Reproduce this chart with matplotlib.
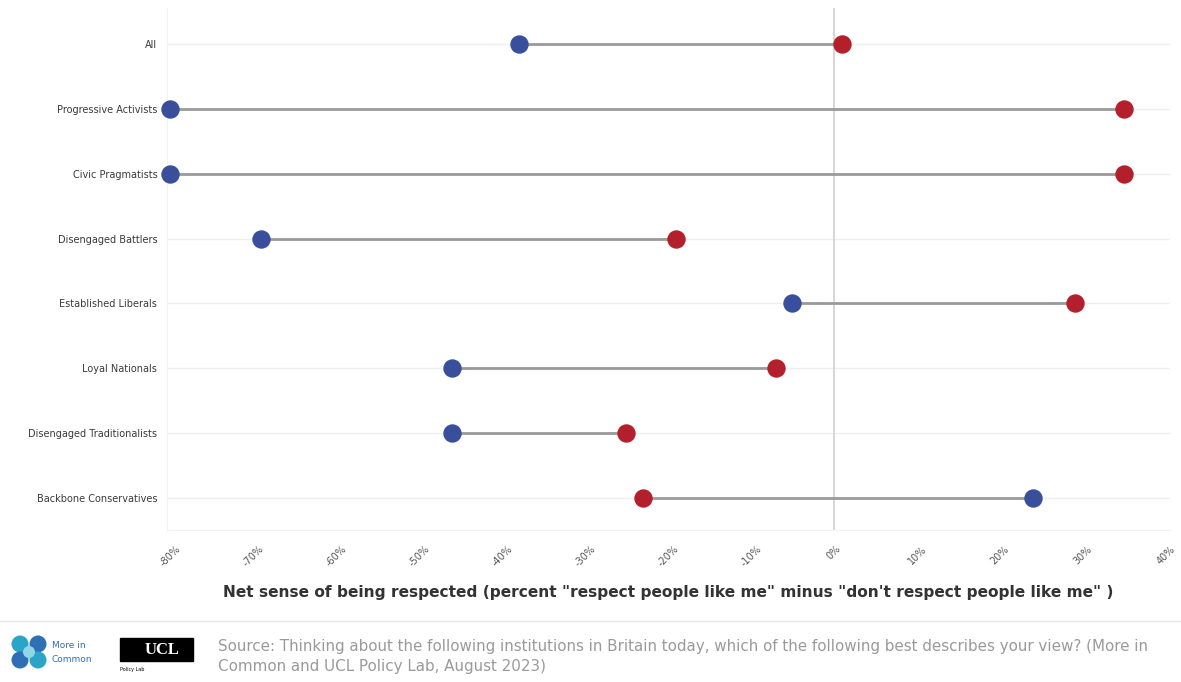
import matplotlib.pyplot as plt
from matplotlib.patches import Circle, Rectangle

# Segments (top to bottom)
categories = [
    "All",
    "Progressive Activists",
    "Civic Pragmatists",
    "Disengaged Battlers",
    "Established Liberals",
    "Loyal Nationals",
    "Disengaged Traditionalists",
    "Backbone Conservatives",
]
# Net sense of being respected, in percent
blue_values = [-38, -80, -80, -69, -5, -46, -46, 24]
red_values = [1, 35, 35, -19, 29, -7, -25, -23]
tick_values = list(range(-80, 41, 10))
tick_labels = [f"{v}%" for v in tick_values]

BLUE = "#3a4f9c"
RED = "#b3202b"
W, H = 1181, 682


def fx(px):
    return px / W


def fy(py):
    return 1 - py / H


fig = plt.figure(figsize=(11.81, 6.82), dpi=100)
ax = fig.add_axes([0.1414, 0.223, 0.8493, 0.765])

rows = list(range(len(categories)))
for i in rows:
    ax.plot([blue_values[i], red_values[i]], [i, i], color="#9a9a9a", lw=2, zorder=2,
            solid_capstyle="butt")
ax.scatter(blue_values, rows, s=150, color=BLUE, zorder=3, clip_on=False)
ax.scatter(red_values, rows, s=150, color=RED, zorder=3, clip_on=False)

ax.axvline(0, color="#d0d0d0", lw=1.2, zorder=1)
for i in rows:
    ax.axhline(i, color="#efefef", lw=1, zorder=0)

ax.set_xlim(-80.36, 40.5)
ax.set_ylim(len(categories) - 0.5, -0.56)
ax.set_yticks(rows)
ax.set_yticklabels(categories, fontsize=7, color="#3a3a3a")
ax.set_xticks(tick_values)
ax.set_xticklabels(tick_labels, fontsize=7, color="#555555", rotation=45,
                   ha="center", va="top")
ax.tick_params(axis="both", length=0)
ax.tick_params(axis="x", pad=10)
ax.tick_params(axis="y", pad=7)
for side in ["top", "right"]:
    ax.spines[side].set_visible(False)
ax.spines["left"].set_color("#f2f2f2")
ax.spines["bottom"].set_color("#f2f2f2")

ax.set_xlabel('Net sense of being respected (percent "respect people like me" minus "don\'t respect people like me" )',
              fontsize=11.1, fontweight="bold", color="#333333", labelpad=12)

# footer separator
fig.add_artist(plt.Line2D([0, 1], [fy(621), fy(621)], color="#e6e6e6", lw=1))

# More in Common logo (rough), drawn in a pixel-square inset
lax = fig.add_axes([fx(10), fy(670), fx(48) - fx(10), fy(634) - fy(670)])
lax.set_xlim(0, 38)
lax.set_ylim(0, 36)
lax.set_aspect("equal")
lax.axis("off")
for (cx, cy, c) in [(10, 26, "#2aa5c8"), (28, 26, "#2f6fb3"),
                    (10, 10, "#2f6fb3"), (28, 10, "#2aa5c8")]:
    lax.add_patch(Circle((cx, cy), 8.5, color=c, ec="none"))
lax.add_patch(Circle((19, 18), 6, color="#8fd6e6", ec="none"))
fig.text(fx(52), fy(646), "More in", fontsize=6.5, color="#2f6fb3", va="center")
fig.text(fx(52), fy(659), "Common", fontsize=6.5, color="#2f6fb3", va="center")

# UCL logo (rough)
fig.add_artist(Rectangle((fx(120), fy(661)), fx(193) - fx(120), fy(638) - fy(661),
                         transform=fig.transFigure, color="black"))
fig.text(fx(162), fy(650), "UCL", fontsize=12, color="white", fontweight="bold",
         ha="center", va="center", family="Liberation Serif")
fig.text(fx(120), fy(670), "Policy Lab", fontsize=3.5, color="black", va="center")

fig.text(fx(218), fy(647),
         "Source: Thinking about the following institutions in Britain today, which of the following best describes your view? (More in",
         fontsize=10.9, color="#9a9a9a", va="center")
fig.text(fx(218), fy(667), "Common and UCL Policy Lab, August 2023)",
         fontsize=10.9, color="#9a9a9a", va="center")

fig.savefig("out.png", dpi=100, facecolor="white")
